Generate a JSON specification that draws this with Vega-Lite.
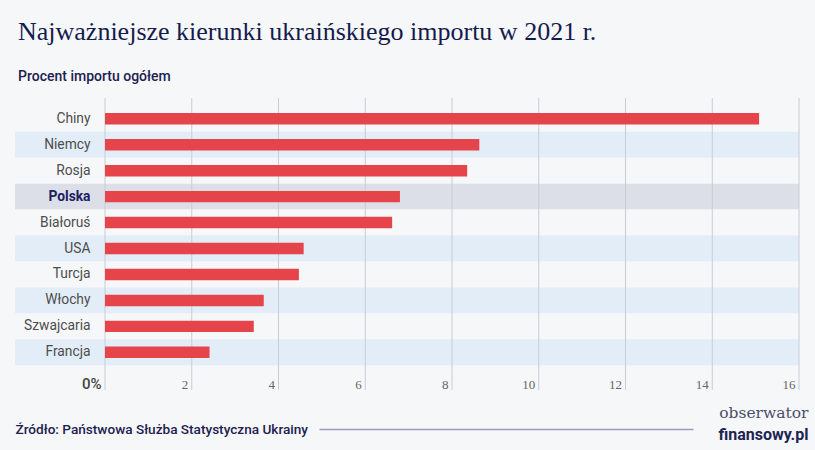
{
  "$schema": "https://vega.github.io/schema/vega-lite/v6.json",
  "width": 694,
  "height": 292,
  "autosize": {"type": "none"},
  "padding": {"left": 105, "top": 98, "right": 16, "bottom": 60},
  "background": "#f6f7f9",
  "config": {"view": {"stroke": null}},
  "title": {
    "text": "Najważniejsze kierunki ukraińskiego importu w 2021 r.",
    "subtitle": "Procent importu ogółem",
    "anchor": "start",
    "frame": "group",
    "dx": -87,
    "offset": 14,
    "font": "Liberation Serif",
    "fontSize": 26,
    "fontWeight": "normal",
    "color": "#151b4d",
    "subtitleFont": "Roboto",
    "subtitleFontSize": 14,
    "subtitleFontWeight": 500,
    "subtitleColor": "#1c2150",
    "subtitlePadding": 25
  },
  "resolve": {"axis": {"x": "independent"}},
  "data": {
    "values": [
      {"kraj": "Chiny", "wartosc": 15.08},
      {"kraj": "Niemcy", "wartosc": 8.63},
      {"kraj": "Rosja", "wartosc": 8.35},
      {"kraj": "Polska", "wartosc": 6.8},
      {"kraj": "Białoruś", "wartosc": 6.62},
      {"kraj": "USA", "wartosc": 4.58},
      {"kraj": "Turcja", "wartosc": 4.47},
      {"kraj": "Włochy", "wartosc": 3.66},
      {"kraj": "Szwajcaria", "wartosc": 3.43},
      {"kraj": "Francja", "wartosc": 2.41}
    ]
  },
  "layer": [
    {
      "mark": {"type": "bar", "height": {"band": 1}},
      "encoding": {
        "y": {
          "field": "kraj", "type": "nominal", "sort": null,
          "scale": {"paddingInner": 0, "paddingOuter": 0.626, "align": 0.24},
          "axis": {
            "zindex": 1,
            "domain": false, "ticks": false, "labelPadding": 15,
            "labelFont": "Roboto", "labelFontSize": 13.8,
            "labelColor": {"condition": {"test": "datum.value === 'Polska'", "value": "#1c2160"}, "value": "#4d4d4d"},
            "labelFontWeight": {"condition": {"test": "datum.value === 'Polska'", "value": "bold"}, "value": "normal"},
            "title": "obserwator",
            "titleAngle": 0,
            "titleX": 703,
            "titleY": 319,
            "titleAlign": "right",
            "titleBaseline": "alphabetic",
            "titleFont": "DejaVu Serif",
            "titleFontSize": 15.5,
            "titleFontWeight": "normal",
            "titleColor": "#4a4f6a"
          }
        },
        "x": {"datum": -2.075, "type": "quantitative", "axis": null},
        "x2": {"datum": 16},
        "color": {
          "condition": [
            {"test": "datum.kraj === 'Polska'", "value": "#dcdfe8"},
            {"test": "indexof(['Niemcy','USA','Włochy','Francja'], datum.kraj) >= 0", "value": "#e3edf8"}
          ],
          "value": "#f6f7f9"
        }
      }
    },
    {
      "data": {"values": [{"v": 0}, {"v": 2}, {"v": 4}, {"v": 6}, {"v": 8}, {"v": 10}, {"v": 12}, {"v": 14}, {"v": 16}]},
      "mark": {"type": "rule", "color": "#c8ccd4", "strokeWidth": 1},
      "encoding": {
        "x": {
          "field": "v", "type": "quantitative",
          "axis": {
            "orient": "top", "labels": false, "ticks": false, "domain": false, "grid": false,
            "title": "finansowy.pl",
            "titleX": 703,
            "titleY": 341,
            "titleAlign": "right",
            "titleBaseline": "alphabetic",
            "titleFont": "Roboto",
            "titleFontSize": 16,
            "titleFontWeight": "bold",
            "titleColor": "#1e2452"
          }
        }
      }
    },
    {
      "mark": {"type": "bar", "height": {"band": 0.44}, "color": "#e5444b"},
      "encoding": {
        "y": {"field": "kraj", "type": "nominal", "sort": null},
        "x": {
          "field": "wartosc", "type": "quantitative",
          "scale": {"domain": [0, 16], "nice": false, "zero": false},
          "axis": {
            "orient": "bottom",
            "offset": 39,
            "grid": false, "ticks": false,
            "domain": true,
            "domainColor": "#9a9cb8",
            "domainWidth": 1.5,
            "domainDash": [0, 214, 374, 1000],
            "values": [0, 2, 4, 6, 8, 10, 12, 14, 16],
            "labelExpr": "datum.value == 0 ? '0%' : datum.label",
            "labelAlign": "right",
            "labelOffset": -4,
            "labelBaseline": "alphabetic",
            "labelPadding": -41,
            "labelOverlap": false,
            "labelFlush": false,
            "labelFont": {"condition": {"test": "datum.value == 0", "value": "Roboto"}, "value": "Liberation Serif"},
            "labelFontSize": {"condition": {"test": "datum.value == 0", "value": 15}, "value": 13},
            "labelFontWeight": {"condition": {"test": "datum.value == 0", "value": 500}, "value": "normal"},
            "labelColor": {"condition": {"test": "datum.value == 0", "value": "#444444"}, "value": "#666666"},
            "title": "Źródło: Państwowa Służba Statystyczna Ukrainy",
            "titleX": -90,
            "titleY": 0,
            "titleAlign": "left",
            "titleBaseline": "middle",
            "titleFont": "Roboto",
            "titleFontSize": 13.6,
            "titleFontWeight": 500,
            "titleColor": "#1c2150"
          }
        }
      }
    }
  ]
}
